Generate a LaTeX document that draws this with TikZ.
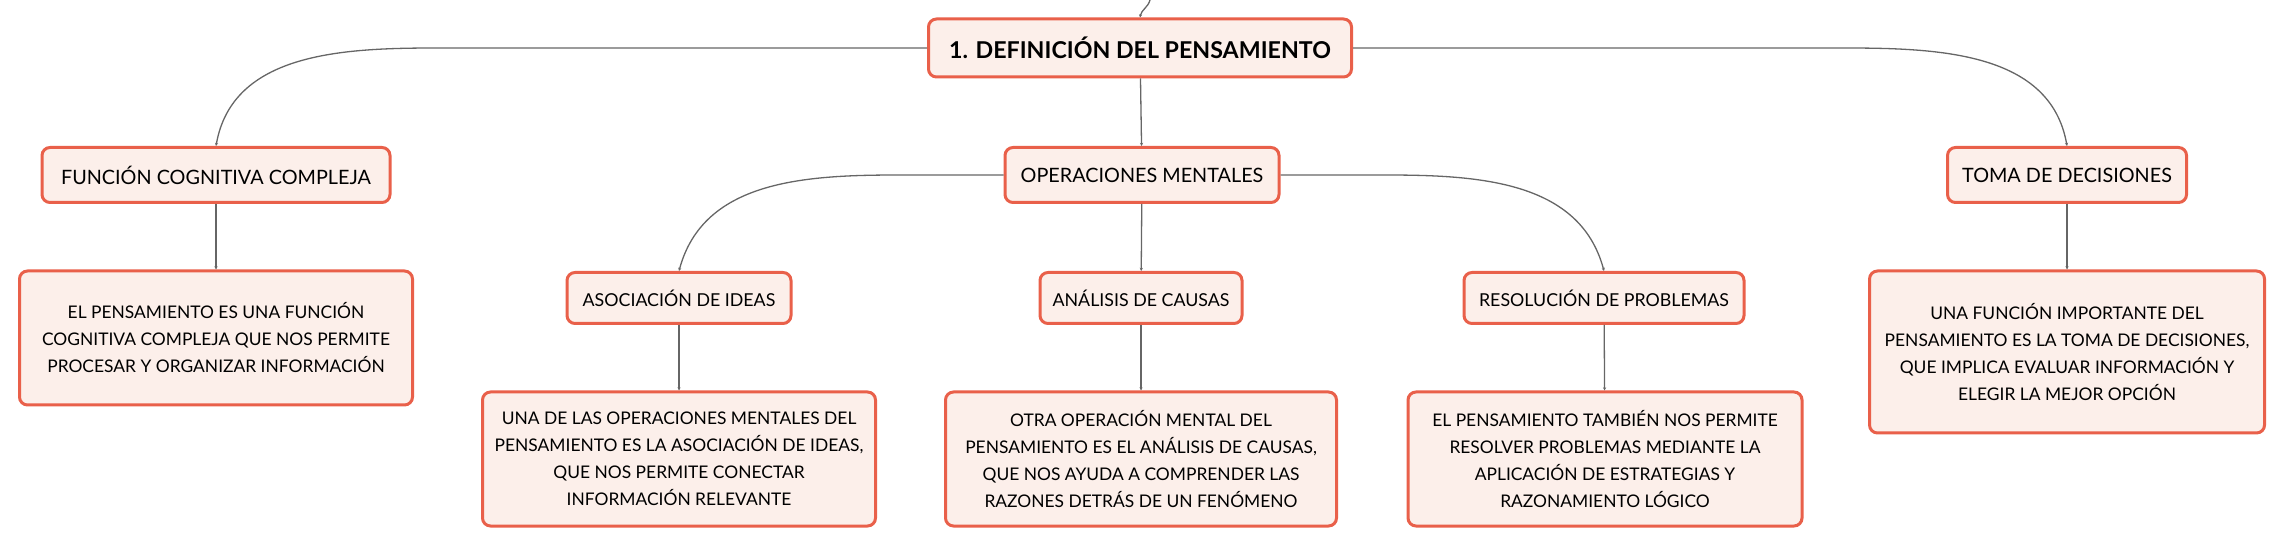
\documentclass[tikz,border=0pt]{standalone}
\usepackage{fontspec}
\setmainfont{Lato}
\usepackage{tikz}
\usetikzlibrary{arrows.meta}
\usetikzlibrary{positioning}
\definecolor{boxline}{HTML}{E9604A}
\definecolor{boxfill}{HTML}{FCEFEA}
\definecolor{linkgray}{HTML}{666666}
\tikzset{
  box/.style={draw=boxline, fill=boxfill, line width=1.5pt, rounded corners=4pt, inner sep=0pt, align=center},
  rootbox/.style={box, font=\bfseries\fontsize{11.6}{14}\selectfont},
  mainbox/.style={box, minimum height=27.5pt, font=\fontsize{9.9}{12}\selectfont},
  subbox/.style={box, minimum height=25.5pt, font=\fontsize{8.9}{11}\selectfont},
  textbox/.style={box, font=\fontsize{8.7}{13.5}\selectfont},
  link/.style={draw=linkgray, line width=0.65pt, -{Stealth[length=1.6pt,width=1.6pt]}}
}
\begin{document}
\begin{tikzpicture}[x=0.5pt,y=-0.5pt]
  \useasboundingbox (0,0) rectangle (2284,549);
  % top level
  \node[rootbox, minimum width=211.5pt, minimum height=29pt] (root) at (1140,48) {1. DEFINICIÓN DEL PENSAMIENTO};
  \coordinate (upin) at (1150,0);
  % second level
  \node[mainbox, minimum width=174pt] (fcc) at (216,175) {FUNCIÓN COGNITIVA COMPLEJA};
  \node[mainbox, minimum width=137pt] (opm) at (1142,175) {OPERACIONES MENTALES};
  \node[mainbox, minimum width=119.5pt] (toma) at (2067,175) {TOMA DE DECISIONES};
  \node[textbox, minimum width=196.5pt, minimum height=67pt] (fcctext) at (216,338)
    {EL PENSAMIENTO ES UNA FUNCIÓN\\COGNITIVA COMPLEJA QUE NOS PERMITE\\PROCESAR Y ORGANIZAR INFORMACIÓN};
  \node[textbox, minimum width=197.5pt, minimum height=81pt] (tomatext) at (2067,352)
    {UNA FUNCIÓN IMPORTANTE DEL\\PENSAMIENTO ES LA TOMA DE DECISIONES,\\QUE IMPLICA EVALUAR INFORMACIÓN Y\\ELEGIR LA MEJOR OPCIÓN};
  % third level
  \node[subbox, minimum width=112pt] (asoc) at (679,298) {ASOCIACIÓN DE IDEAS};
  \node[subbox, minimum width=101pt] (anal) at (1141,298) {ANÁLISIS DE CAUSAS};
  \node[subbox, minimum width=140pt] (resol) at (1604,298) {RESOLUCIÓN DE PROBLEMAS};
  \node[textbox, minimum width=196.5pt, minimum height=67pt] (asoctext) at (679,459)
    {UNA DE LAS OPERACIONES MENTALES DEL\\PENSAMIENTO ES LA ASOCIACIÓN DE IDEAS,\\QUE NOS PERMITE CONECTAR\\INFORMACIÓN RELEVANTE};
  \node[textbox, minimum width=195.5pt, minimum height=67pt] (analtext) at (1141,459)
    {OTRA OPERACIÓN MENTAL DEL\\PENSAMIENTO ES EL ANÁLISIS DE CAUSAS,\\QUE NOS AYUDA A COMPRENDER LAS\\RAZONES DETRÁS DE UN FENÓMENO};
  \node[textbox, minimum width=197pt, minimum height=67pt] (resoltext) at (1605,459)
    {EL PENSAMIENTO TAMBIÉN NOS PERMITE\\RESOLVER PROBLEMAS MEDIANTE LA\\APLICACIÓN DE ESTRATEGIAS Y\\RAZONAMIENTO LÓGICO};
  % bends
  \coordinate (fccbend) at (437,48);
  \coordinate (tomabend) at (1843,48);
  \coordinate (asocbend) at (900,175);
  \coordinate (resolbend) at (1384,175);
  % links
  \draw[link] (upin) to[out=255,in=80] (root.north);
  \draw[link] (root.west) -- (fccbend) to[out=180,in=80] (fcc.north);
  \draw[link] (root.east) -- (tomabend) to[out=0,in=100] (toma.north);
  \draw[link] (root) -- (opm);
  \draw[link] (fcc) -- (fcctext);
  \draw[link] (toma) -- (tomatext);
  \draw[link] (opm.west) -- (asocbend) to[out=180,in=75] (asoc.north);
  \draw[link] (opm.east) -- (resolbend) to[out=0,in=105] (resol.north);
  \draw[link] (opm) -- (anal);
  \draw[link] (asoc) -- (asoctext);
  \draw[link] (anal) -- (analtext);
  \draw[link] (resol) -- (resoltext);
\end{tikzpicture}
\end{document}
